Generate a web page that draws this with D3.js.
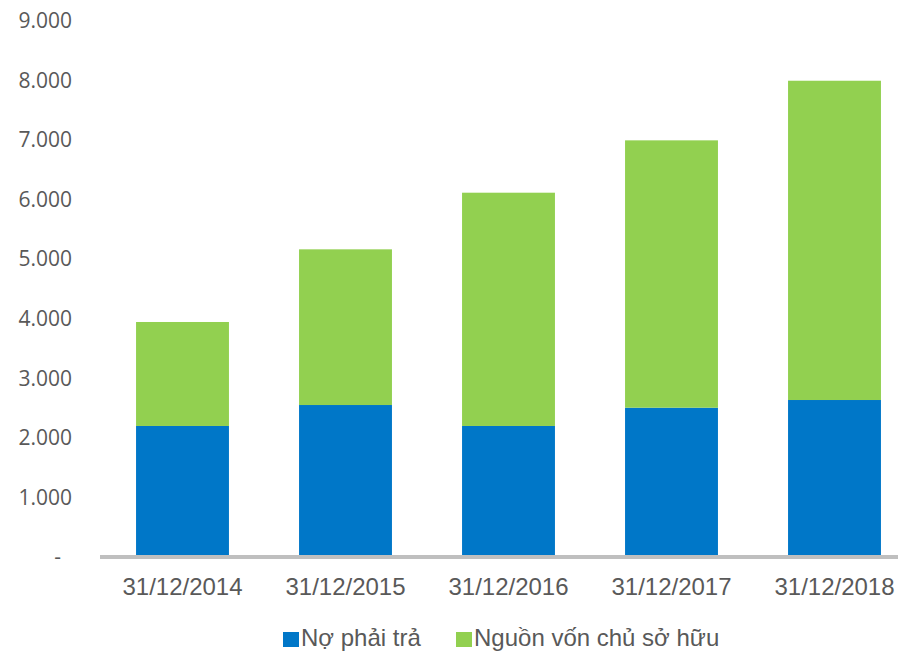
<!DOCTYPE html>
<html>
<head>
<meta charset="utf-8">
<script src="https://cdn.jsdelivr.net/npm/d3@7"></script>
<style>
  html, body { margin: 0; padding: 0; background: #fff; }
  svg { display: block; }
</style>
</head>
<body>
<div id="chart"></div>
<script>
// chart data
const categories = ['31/12/2014', '31/12/2015', '31/12/2016', '31/12/2017', '31/12/2018'];
const noPhaiTra = [2200, 2552, 2200, 2507, 2636];
const vonChuSoHuu = [1746, 2614, 3917, 4489, 5361];
const seriesNames = ['Nợ phải trả', 'Nguồn vốn chủ sở hữu'];
const yTicks = [0, 1000, 2000, 3000, 4000, 5000, 6000, 7000, 8000, 9000];

const width = 898, height = 652;
const colors = { blue: '#0077C8', green: '#92D050', axis: '#BFBFBF', text: '#595959' };

const svg = d3.select('#chart').append('svg')
  .attr('width', width)
  .attr('height', height);

const x = d3.scaleBand()
  .domain(categories)
  .range([101, 916])
  .paddingInner(0.43)
  .paddingOuter(0.215);

const y = d3.scaleLinear()
  .domain([0, 9000])
  .range([557, 21]);

const locale = d3.formatLocale({ decimal: ',', thousands: '.', grouping: [3], currency: ['', ''] });
const fmt = locale.format(',');

// y axis labels (no line)
const yAxis = svg.append('g')
  .attr('transform', 'translate(72,0)')
  .call(d3.axisLeft(y).tickValues(yTicks).tickSize(0).tickPadding(0)
    .tickFormat(d => d === 0 ? '-' : fmt(d)));
yAxis.select('.domain').remove();
yAxis.selectAll('text')
  .attr('fill', colors.text)
  .attr('font-family', '"Open Sans", "Noto Sans", sans-serif')
  .attr('font-size', '21px')
  .attr('dx', d => d === 0 ? -11 : 0);

// stacked bars
const rows = categories.map((c, i) => ({ cat: c, debt: noPhaiTra[i], equity: vonChuSoHuu[i] }));
const stack = d3.stack().keys(['debt', 'equity'])(rows);
const fills = [colors.blue, colors.green];

svg.append('g')
  .selectAll('g')
  .data(stack)
  .enter()
  .append('g')
  .attr('fill', (d, i) => fills[i])
  .selectAll('rect')
  .data(d => d)
  .enter()
  .append('rect')
  .attr('x', d => x(d.data.cat))
  .attr('width', x.bandwidth())
  .attr('y', d => y(d[1]))
  .attr('height', d => y(d[0]) - y(d[1]));

// x axis line
svg.append('line')
  .attr('x1', 100).attr('x2', width)
  .attr('y1', 557).attr('y2', 557)
  .attr('stroke', colors.axis)
  .attr('stroke-width', 4);

// x labels
const xAxis = svg.append('g')
  .attr('transform', 'translate(0,595)')
  .call(d3.axisBottom(x).tickSize(0).tickPadding(0));
xAxis.select('.domain').remove();
xAxis.selectAll('text')
  .attr('dy', 0)
  .attr('fill', colors.text)
  .attr('font-family', '"Liberation Sans", Arial, sans-serif')
  .attr('font-size', '24px');

// legend
const legendItems = [
  { name: seriesNames[0], color: colors.blue, x: 283 },
  { name: seriesNames[1], color: colors.green, x: 456 }
];
const legend = svg.append('g')
  .selectAll('g')
  .data(legendItems)
  .enter()
  .append('g')
  .attr('transform', d => `translate(${d.x},0)`);

legend.append('rect')
  .attr('x', 0).attr('y', 632)
  .attr('width', 16).attr('height', 15)
  .attr('fill', d => d.color);

legend.append('text')
  .attr('x', 18).attr('y', 646)
  .attr('fill', colors.text)
  .attr('font-family', '"Liberation Sans", Arial, sans-serif')
  .attr('font-size', '24px')
  .text(d => d.name);
</script>
</body>
</html>
